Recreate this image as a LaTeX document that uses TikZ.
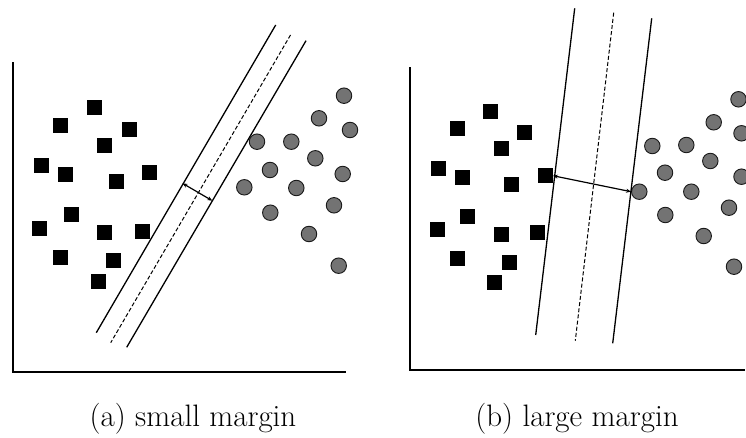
\documentclass[tikz,border=0pt]{standalone}
\usetikzlibrary{arrows.meta}
\begin{document}
\begin{tikzpicture}[x=1pt,y=-1pt,
  sq/.style={fill=black,draw=none,minimum size=15pt,inner sep=0pt,outer sep=0pt},
  dot/.style={circle,fill=black!55,draw=black!90,line width=0.9pt,minimum size=15.5pt,inner sep=0pt},
  axis/.style={line width=2pt,line cap=rect},
  hyp/.style={line width=1.3pt},
  mid/.style={line width=1pt,dash pattern=on 4pt off 2.2pt},
  marg/.style={line width=1.2pt,{Stealth[length=5pt,width=4pt]}-{Stealth[length=5pt,width=4pt]}},
  captext/.style={anchor=base,font=\fontsize{31}{36}\selectfont}]
\useasboundingbox (0,0) rectangle (746,438);
% ---------- panel (a) ----------
\coordinate (aO) at (12.5,372);
\coordinate (aY) at (12.5,63);
\coordinate (aX) at (345,372);
\draw[axis] (aY) -- (aO) -- (aX);
\foreach \i/\x/\y in {1/94/107.7,2/60/125.7,3/129/129.3,4/104.7/145.3,5/41.7/165.3,6/65.3/175,7/116/181.3,8/149.3/172.7,9/71/214.7,10/39.7/228.3,11/104.7/232.3,12/142/231.7,13/60.7/257,14/113.3/260.7,15/98/281.7}
  \node[sq] (sa\i) at (\x,\y) {};
\foreach \i/\x/\y in {1/344/95.7,2/319/118.3,3/350/130,4/257/141.7,5/291.3/141.7,6/315.3/158.3,7/270/170,8/342.7/174,9/244.3/187.3,10/296.3/188,11/334/205.3,12/270.3/212.7,13/309/234,14/338.7/265.7}
  \node[dot] (ca\i) at (\x,\y) {};
\coordinate (aL1) at (275.7,25);   \coordinate (aL2) at (96.3,332.7);
\coordinate (aM1) at (290.5,35);   \coordinate (aM2) at (110.7,342.7);
\coordinate (aR1) at (306,40.7);   \coordinate (aR2) at (126.7,347.3);
\draw[hyp] (aL1) -- (aL2);
\draw[mid] (aM1) -- (aM2);
\draw[hyp] (aR1) -- (aR2);
\coordinate (aA1) at (182.5,183.3);
\coordinate (aA2) at (212.3,200.7);
\draw[marg] (aA1) -- (aA2);
\node[captext] (capa) at (193,426) {(a) small margin};
% ---------- panel (b) ----------
\coordinate (bO) at (409.7,370);
\coordinate (bY) at (409.7,68.3);
\coordinate (bX) at (744,370);
\draw[axis] (bY) -- (bO) -- (bX);
\foreach \i/\x/\y in {1/490.3/111.7,2/457/129,3/524.7/132.7,4/501.3/148.7,5/438.7/168.3,6/462/177.7,7/511.7/184.3,8/545.3/175.7,9/467.3/216.7,10/437/230,11/501/234.7,12/537.7/232.7,13/457.3/258.7,14/509.3/262.3,15/494.3/282.7}
  \node[sq] (sb\i) at (\x,\y) {};
\foreach \i/\x/\y in {1/738.5/99.3,2/713.7/122.3,3/741.5/133.3,4/652.3/146,5/686.3/145,6/710.3/161,7/665/172.7,8/741.5/176.7,9/639.3/191.7,10/691.3/191.7,11/729/207.7,12/665.3/215,13/703.7/236,14/734/266.7}
  \node[dot] (cb\i) at (\x,\y) {};
\coordinate (bL1) at (574.7,8.3);   \coordinate (bL2) at (535.7,335);
\coordinate (bM1) at (613.7,12.7);  \coordinate (bM2) at (575.3,340.7);
\coordinate (bR1) at (651.7,18.3);  \coordinate (bR2) at (612.7,343.3);
\draw[hyp] (bL1) -- (bL2);
\draw[mid] (bM1) -- (bM2);
\draw[hyp] (bR1) -- (bR2);
\draw[marg] (sb8.east) -- (cb9.west);
\node[captext] (capb) at (577,426) {(b) large margin};
\end{tikzpicture}
\end{document}
